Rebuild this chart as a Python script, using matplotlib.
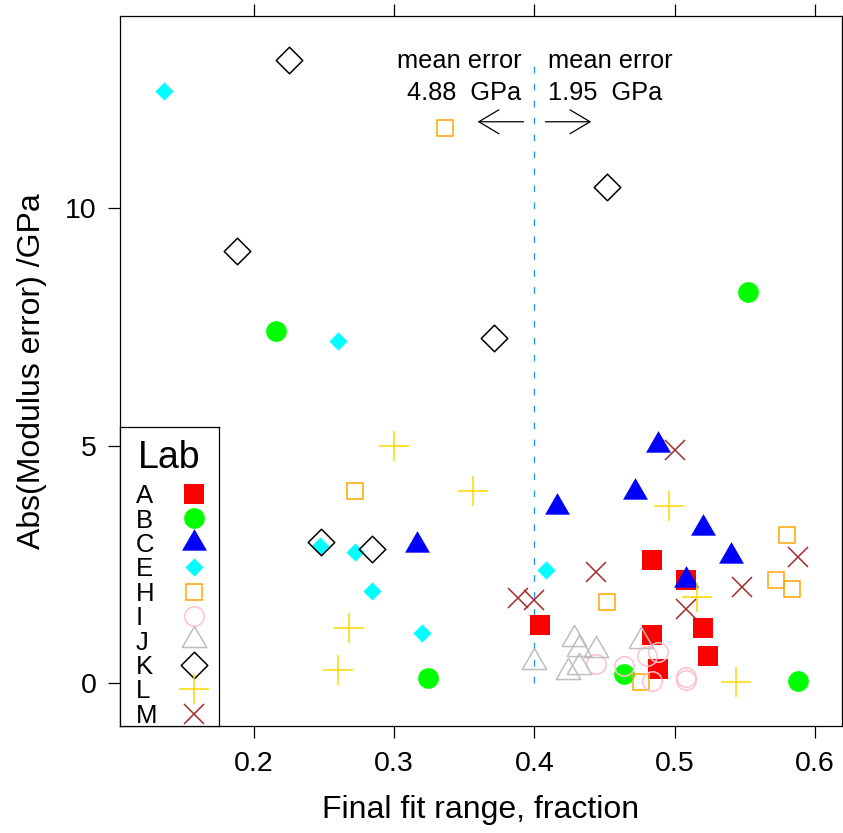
import matplotlib
matplotlib.use("Agg")
import matplotlib.pyplot as plt
from matplotlib.path import Path
from matplotlib.patches import ArrowStyle

plt.rcParams['font.family'] = ['Liberation Sans', 'DejaVu Sans']
plt.rcParams['lines.scale_dashes'] = False

# ---------------- data ----------------
labs = ["A", "B", "C", "E", "H", "I", "J", "K", "L", "M"]

x_A = [0.484, 0.508, 0.404, 0.484, 0.520, 0.524, 0.488]
y_A = [2.59, 2.17, 1.23, 1.01, 1.17, 0.57, 0.30]
x_B = [0.324, 0.464, 0.588, 0.216, 0.552]
y_B = [0.12, 0.19, 0.05, 7.41, 8.24]
x_C = [0.488, 0.472, 0.416, 0.316, 0.520, 0.540, 0.508]
y_C = [5.01, 4.03, 3.71, 2.92, 3.26, 2.68, 2.17]
x_E = [0.408, 0.136, 0.260, 0.247, 0.272, 0.284, 0.320]
y_E = [2.38, 12.47, 7.20, 2.89, 2.77, 1.94, 1.05]
x_H = [0.336, 0.272, 0.580, 0.572, 0.584, 0.452, 0.476]
y_H = [11.69, 4.05, 3.13, 2.17, 1.98, 1.70, 0.02]
x_I = [0.444, 0.464, 0.480, 0.488, 0.484, 0.508, 0.508]
y_I = [0.40, 0.37, 0.58, 0.65, 0.05, 0.14, 0.07]
x_J = [0.400, 0.428, 0.432, 0.444, 0.424, 0.432, 0.476]
y_J = [0.45, 0.94, 0.72, 0.69, 0.23, 0.34, 0.89]
x_K = [0.225, 0.188, 0.452, 0.371, 0.248, 0.284]
y_K = [13.12, 9.10, 10.45, 7.27, 2.98, 2.83]
x_L = [0.300, 0.356, 0.496, 0.516, 0.544, 0.268, 0.260]
y_L = [4.99, 4.05, 3.73, 1.81, 0.03, 1.17, 0.28]
x_M = [0.500, 0.444, 0.588, 0.548, 0.388, 0.400, 0.508]
y_M = [4.91, 2.34, 2.65, 2.02, 1.80, 1.75, 1.56]

xs = {"A": x_A, "B": x_B, "C": x_C, "E": x_E, "H": x_H,
      "I": x_I, "J": x_J, "K": x_K, "L": x_L, "M": x_M}
ys = {"A": y_A, "B": y_B, "C": y_C, "E": y_E, "H": y_H,
      "I": y_I, "J": y_J, "K": y_K, "L": y_L, "M": y_M}

split_x = 0.4
mean_err_left = "4.88"
mean_err_right = "1.95"
x_ticks = [0.2, 0.3, 0.4, 0.5, 0.6]
y_ticks = [0, 5, 10]

# ---------------- styles ----------------
TRI = Path.unit_regular_polygon(3)
DIA = Path.unit_regular_polygon(4)
LW = 1.1
styles = {
    "A": dict(marker='s', ms=14.0, mfc='#FF0000', mec='none', mew=0),
    "B": dict(marker='o', ms=14.9, mfc='#00FF00', mec='none', mew=0),
    "C": dict(marker=TRI, ms=20.7, mfc='#0000FF', mec='none', mew=0),
    "E": dict(marker=DIA, ms=13.1, mfc='#00FFFF', mec='none', mew=0),
    "H": dict(marker='s', ms=11.7, mfc='none', mec='#FFA500', mew=LW),
    "I": dict(marker='o', ms=14.0, mfc='none', mec='#FFC0CB', mew=LW),
    "J": dict(marker=TRI, ms=20.3, mfc='none', mec='#BEBEBE', mew=LW),
    "K": dict(marker=DIA, ms=19.1, mfc='none', mec='#000000', mew=LW),
    "L": dict(marker='+', ms=20.9, mfc='none', mec='#FFD700', mew=LW),
    "M": dict(marker='x', ms=13.7, mfc='none', mec='#A52A2A', mew=LW),
}

W, H = 843, 833
fig = plt.figure(figsize=(W / 100, H / 100), dpi=100)
L_, R_, T_, B_ = 120, 842, 15.7, 726
ax = fig.add_axes([L_ / W, (H - B_) / H, (R_ - L_) / W, (B_ - T_) / H])

for lab in labs:
    ax.plot(xs[lab], ys[lab], linestyle='none', **styles[lab])

ax.set_xlim(0.1045, 0.6193)
ax.set_ylim(-0.901, 14.053)

# dashed split line from 0 to max error
ymax = max(max(v) for v in ys.values())
ax.plot([split_x, split_x], [0, ymax], color='#1E90FF', lw=0.95,
        dashes=(4.8, 7.4), zorder=1)

# annotations
tfs = 18.3
ax.text(split_x - 0.0091, 12.945, "mean error", ha='right', va='baseline', fontsize=tfs)
ax.text(split_x - 0.0091, 12.278, mean_err_left + "  GPa", ha='right', va='baseline', fontsize=tfs)
ax.text(split_x + 0.0096, 12.945, "mean error", ha='left', va='baseline', fontsize=tfs)
ax.text(split_x + 0.0096, 12.278, mean_err_right + "  GPa", ha='left', va='baseline', fontsize=tfs)
astyle = ArrowStyle('->', head_length=14.4, head_width=8.6)
for sgn in (-1, 1):
    ax.annotate("", xy=(split_x + sgn * 0.0405, 11.82), xytext=(split_x + sgn * 0.0078, 11.82),
                arrowprops=dict(arrowstyle=astyle, mutation_scale=1, lw=0.9, color='black',
                                shrinkA=0, shrinkB=0))

ax.set_xticks(x_ticks)
ax.set_xticklabels([f"{t:.1f}" for t in x_ticks])
ax.set_yticks(y_ticks)
ax.tick_params(direction='out', length=8.6, width=0.9, labelsize=20.5,
               top=True, labeltop=False, right=False)
ax.tick_params(axis='x', pad=9.5)
ax.tick_params(axis='y', pad=8)
for s in ax.spines.values():
    s.set_linewidth(0.9)
ax.set_xlabel("Final fit range, fraction", fontsize=23, labelpad=13)
ax.set_ylabel("Abs(Modulus error) /GPa", fontsize=23, labelpad=13)

# legend box (inset)
lw_, lh_ = 99.3, 299.3
leg = fig.add_axes([L_ / W, (H - B_) / H, lw_ / W, lh_ / H])
leg.set_xlim(0, lw_)
leg.set_ylim(lh_, 0)
leg.set_xticks([])
leg.set_yticks([])
for s in leg.spines.values():
    s.set_linewidth(0.9)
leg.text(lw_ / 2, 41.6, "Lab", ha='center', va='baseline', fontsize=27)
for i, lab in enumerate(labs):
    yc = 67.3 + 24.4 * i
    leg.text(16, yc + 9.2, lab, ha='left', va='baseline', fontsize=18.5)
    leg.plot([74.3], [yc], linestyle='none', clip_on=False, **styles[lab])

fig.savefig("out.png", dpi=100)
